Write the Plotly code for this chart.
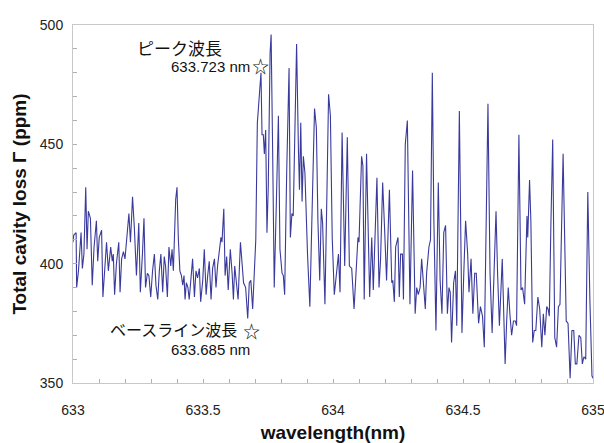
import plotly.graph_objects as go

# ---- data ----
wavelength_nm = [
    633.000, 633.003, 633.012, 633.014, 633.021, 633.031, 633.036, 633.042, 633.049, 633.054,
    633.059, 633.067, 633.074, 633.081, 633.090, 633.095, 633.101, 633.110, 633.115, 633.122,
    633.129, 633.136, 633.145, 633.151, 633.155, 633.160, 633.167, 633.176, 633.181, 633.187,
    633.194, 633.200, 633.206, 633.215, 633.221, 633.229, 633.236, 633.244, 633.253, 633.259,
    633.267, 633.273, 633.279, 633.286, 633.292, 633.299, 633.306, 633.313, 633.319, 633.326,
    633.332, 633.338, 633.345, 633.351, 633.356, 633.363, 633.369, 633.376, 633.381, 633.386,
    633.395, 633.400, 633.405, 633.411, 633.417, 633.422, 633.427, 633.431, 633.436, 633.442,
    633.447, 633.454, 633.460, 633.467, 633.473, 633.479, 633.486, 633.491, 633.499, 633.505,
    633.512, 633.518, 633.524, 633.531, 633.537, 633.544, 633.550, 633.556, 633.563, 633.569,
    633.573, 633.580, 633.585, 633.591, 633.597, 633.605, 633.612, 633.617, 633.622, 633.628,
    633.635, 633.644, 633.650, 633.656, 633.664, 633.672, 633.678, 633.684, 633.691, 633.697,
    633.703, 633.709, 633.715, 633.723, 633.727, 633.732, 633.736, 633.741, 633.746, 633.751,
    633.758, 633.762, 633.768, 633.774, 633.782, 633.790, 633.796, 633.804, 633.809, 633.814,
    633.822, 633.831, 633.836, 633.842, 633.847, 633.854, 633.860, 633.867, 633.871, 633.876,
    633.881, 633.886, 633.892, 633.902, 633.911, 633.920, 633.929, 633.936, 633.942, 633.949,
    633.955, 633.960, 633.969, 633.977, 633.983, 633.990, 633.997, 634.005, 634.013, 634.021,
    634.027, 634.035, 634.045, 634.055, 634.063, 634.072, 634.081, 634.088, 634.096, 634.100,
    634.110, 634.115, 634.120, 634.129, 634.141, 634.149, 634.155, 634.169, 634.177, 634.183,
    634.191, 634.199, 634.206, 634.217, 634.226, 634.230, 634.236, 634.241, 634.250, 634.255,
    634.260, 634.267, 634.271, 634.278, 634.286, 634.296, 634.306, 634.316, 634.322, 634.328,
    634.335, 634.341, 634.347, 634.355, 634.360, 634.369, 634.375, 634.382, 634.388, 634.396,
    634.405, 634.412, 634.419, 634.426, 634.433, 634.440, 634.446, 634.451, 634.456, 634.464,
    634.471, 634.476, 634.486, 634.496, 634.503, 634.510, 634.518, 634.523, 634.531, 634.538,
    634.545, 634.551, 634.560, 634.567, 634.575, 634.582, 634.596, 634.604, 634.612, 634.619,
    634.627, 634.633, 634.640, 634.651, 634.662, 634.668, 634.674, 634.681, 634.687, 634.694,
    634.701, 634.706, 634.715, 634.723, 634.729, 634.737, 634.746, 634.749, 634.756, 634.761,
    634.768, 634.774, 634.780, 634.788, 634.795, 634.803, 634.809, 634.815, 634.822, 634.827,
    634.832, 634.838, 634.845, 634.853, 634.860, 634.867, 634.873, 634.885, 634.892, 634.897,
    634.904, 634.912, 634.919, 634.926, 634.932, 634.938, 634.946, 634.953, 634.959, 634.965,
    634.972, 634.980, 634.988, 634.996, 635.000,
]
loss_ppm = [
    409, 412, 413, 390, 397, 413, 398, 404, 432, 406,
    422, 419, 391, 407, 418, 401, 411, 414, 386, 399,
    409, 397, 407, 401, 404, 387, 400, 409, 388, 402,
    405, 402, 409, 421, 409, 428, 415, 395, 417, 388,
    404, 419, 390, 396, 395, 386, 397, 404, 391, 385,
    397, 404, 388, 403, 399, 386, 407, 399, 406, 397,
    427, 432, 411, 397, 395, 391, 395, 385, 392, 390,
    385, 393, 402, 386, 397, 394, 398, 384, 393, 406,
    387, 395, 401, 385, 398, 402, 390, 399, 405, 411,
    409, 423, 395, 403, 389, 406, 396, 385, 399, 392,
    385, 409, 402, 392, 390, 377, 392, 393, 381, 394,
    410, 459, 469, 480, 454, 454, 446, 456, 413, 432,
    488, 496, 446, 390, 425, 462, 406, 396, 395, 387,
    439, 482, 411, 421, 420, 460, 492, 448, 431, 459,
    426, 445, 438, 404, 382, 424, 465, 457, 418, 393,
    423, 417, 383, 432, 471, 462, 411, 387, 397, 404,
    388, 455, 399, 453, 399, 398, 381, 396, 411, 409,
    445, 441, 385, 446, 386, 411, 389, 436, 390, 402,
    434, 413, 393, 431, 392, 393, 384, 407, 411, 386,
    404, 404, 385, 450, 460, 383, 439, 379, 390, 387,
    390, 402, 394, 381, 396, 407, 410, 480, 418, 372,
    434, 393, 379, 413, 416, 379, 390, 388, 367, 392,
    397, 374, 464, 371, 396, 418, 404, 388, 402, 379,
    396, 396, 375, 382, 378, 365, 467, 396, 371, 399,
    422, 396, 374, 402, 358, 376, 390, 378, 370, 376,
    376, 374, 454, 389, 390, 383, 420, 411, 435, 418,
    367, 372, 372, 386, 381, 365, 379, 370, 382, 381,
    378, 416, 452, 369, 365, 382, 383, 446, 411, 376,
    375, 352, 372, 372, 358, 358, 370, 369, 358, 361,
    360, 430, 385, 353, 352,
]

x_tick_vals = [633, 633.5, 634, 634.5, 635]
x_tick_text = ["633", "633.5", "634", "634.5", "635"]
y_tick_vals = [350, 400, 450, 500]
y_tick_text = ["350", "400", "450", "500"]

peak_name = "ピーク波長"
peak_wl = 633.723
peak_ppm = 483
baseline_name = "ベースライン波長"
baseline_wl = 633.685
baseline_ppm = 372

NUM_FONT = "Liberation Sans Narrow, Arial Narrow, Liberation Sans, Arial, sans-serif"
TXT_FONT = "Liberation Sans, Arial, sans-serif"
JP_FONT = "Noto Sans CJK JP, sans-serif"
TITLE_FONT = "Liberation Sans, Arial, sans-serif"

fig = go.Figure(
    go.Scatter(
        x=wavelength_nm, y=loss_ppm, mode="lines",
        line=dict(color="#3a3a9c", width=1.1),
        hoverinfo="x+y", showlegend=False,
    )
)

axis_common = dict(
    automargin=False,
    showgrid=False, zeroline=False,
    showline=True, linecolor="#c8c8c8", linewidth=1, mirror=True,
    ticks="inside", ticklen=4, tickcolor="#b0b0b0", tickwidth=1,
    tickfont=dict(family=NUM_FONT, size=14, color="#222222"),
    ticklabeloverflow="allow",
)

fig.update_xaxes(
    range=[633, 635], tickmode="array", tickvals=x_tick_vals, ticktext=x_tick_text,
    minor=dict(dtick=0.1, ticks="inside", ticklen=4, tickcolor="#b0b0b0", showgrid=False),
    ticklabelstandoff=14,
    title=dict(text="<b>wavelength(nm)</b>", font=dict(family=TITLE_FONT, size=19, color="#111111"), standoff=11),
    **axis_common,
)
fig.update_yaxes(
    range=[350, 500], tickmode="array", tickvals=y_tick_vals, ticktext=y_tick_text,
    minor=dict(dtick=10, ticks="inside", ticklen=4, tickcolor="#b0b0b0", showgrid=False),
    ticklabelstandoff=6,
    title=dict(text="<b>Total cavity loss Γ (ppm)</b>", font=dict(family=TITLE_FONT, size=19, color="#111111"), standoff=8),
    **axis_common,
)

annotations = [
    dict(x=633.408, y=490.5, text=peak_name, xanchor="center", yanchor="middle",
         font=dict(family=JP_FONT, size=17, color="#111111")),
    dict(x=633.688, y=482.5, text=f"{peak_wl:.3f} nm", xanchor="right", yanchor="middle",
         font=dict(family=TXT_FONT, size=15, color="#111111")),
    dict(x=peak_wl, y=peak_ppm, text="☆", xanchor="center", yanchor="middle",
         font=dict(family=JP_FONT, size=17, color="#111111")),
    dict(x=633.638, y=372.5, text=baseline_name, xanchor="right", yanchor="middle",
         font=dict(family=JP_FONT, size=16, color="#111111")),
    dict(x=baseline_wl, y=baseline_ppm, text="☆", xanchor="center", yanchor="middle",
         font=dict(family=JP_FONT, size=17, color="#111111")),
    dict(x=633.688, y=364.0, text=f"{baseline_wl:.3f} nm", xanchor="right", yanchor="middle",
         font=dict(family=TXT_FONT, size=15, color="#111111")),
]
for a in annotations:
    a.update(xref="x", yref="y", showarrow=False)

fig.update_layout(
    width=604, height=443,
    margin=dict(l=73, r=11, t=25, b=60),
    paper_bgcolor="white", plot_bgcolor="white",
    annotations=annotations,
)

fig.write_html(
    "out.html",
    config={"displayModeBar": False},
    post_script="document.body.style.margin='0';document.body.style.padding='0';",
)
